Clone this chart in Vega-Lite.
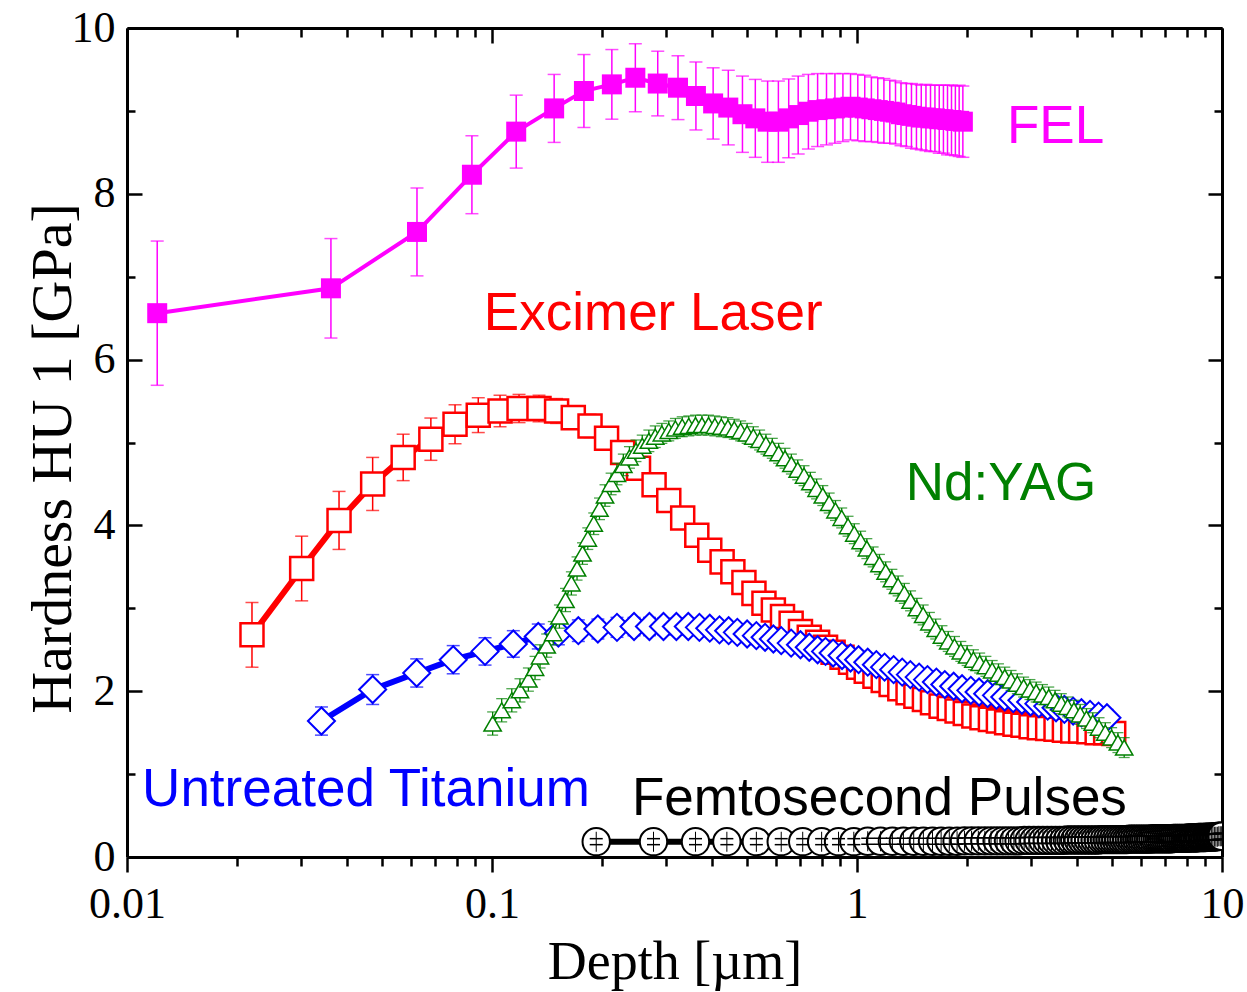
{
"$schema": "https://vega.github.io/schema/vega-lite/v6.json",
"width": 1095, "height": 829,
"autosize": "none",
"padding": {"left": 127, "top": 28, "right": 25, "bottom": 135},
"background": "white",
"config": {"view": {"stroke": null}, "axis": {"grid": false, "zindex": 1, "domainColor": "black", "tickColor": "black", "labelColor": "black", "titleColor": "black"}},
"datasets": {
"fel": [
{"x":0.0121,"y":6.56,"e":0.87},{"x":0.0362,"y":6.86,"e":0.6},{"x":0.0623,"y":7.54,"e":0.53},{"x":0.0881,"y":8.23,"e":0.47},{"x":0.1165,"y":8.75,"e":0.44},{"x":0.148,"y":9.03,"e":0.41},{"x":0.1786,"y":9.24,"e":0.44},{"x":0.213,"y":9.32,"e":0.42},{"x":0.247,"y":9.4,"e":0.41},{"x":0.2845,"y":9.33,"e":0.39},{"x":0.3233,"y":9.28,"e":0.385},{"x":0.362,"y":9.18,"e":0.41},{"x":0.4035,"y":9.09,"e":0.43},{"x":0.444,"y":9.04,"e":0.45},{"x":0.4855,"y":8.96,"e":0.46},{"x":0.5265,"y":8.91,"e":0.47},{"x":0.569,"y":8.87,"e":0.49},{"x":0.609,"y":8.87,"e":0.49},{"x":0.65,"y":8.91,"e":0.475},{"x":0.69,"y":8.95,"e":0.47},{"x":0.736,"y":8.99,"e":0.45},{"x":0.78,"y":9.01,"e":0.44},{"x":0.825,"y":9.02,"e":0.43},{"x":0.87,"y":9.03,"e":0.42},{"x":0.915,"y":9.04,"e":0.41},{"x":0.96,"y":9.05,"e":0.4},{"x":1.005,"y":9.04,"e":0.4},{"x":1.05,"y":9.03,"e":0.4},{"x":1.095,"y":9.02,"e":0.39},{"x":1.14,"y":9.01,"e":0.39},{"x":1.185,"y":9.0,"e":0.39},{"x":1.23,"y":8.99,"e":0.38},{"x":1.275,"y":8.98,"e":0.38},{"x":1.32,"y":8.96,"e":0.38},{"x":1.365,"y":8.95,"e":0.38},{"x":1.41,"y":8.94,"e":0.39},{"x":1.455,"y":8.93,"e":0.39},{"x":1.5,"y":8.92,"e":0.39},{"x":1.545,"y":8.92,"e":0.4},{"x":1.59,"y":8.91,"e":0.4},{"x":1.635,"y":8.91,"e":0.4},{"x":1.68,"y":8.9,"e":0.41},{"x":1.725,"y":8.9,"e":0.41},{"x":1.77,"y":8.89,"e":0.42},{"x":1.815,"y":8.89,"e":0.42},{"x":1.86,"y":8.88,"e":0.42},{"x":1.905,"y":8.88,"e":0.43},{"x":1.95,"y":8.87,"e":0.43}
],
"red": [
{"x":0.022,"y":2.68,"e":0.39},{"x":0.0301,"y":3.48,"e":0.39},{"x":0.0381,"y":4.06,"e":0.35},{"x":0.0471,"y":4.5,"e":0.32},{"x":0.0571,"y":4.82,"e":0.28},{"x":0.068,"y":5.04,"e":0.255},{"x":0.0792,"y":5.22,"e":0.235},{"x":0.0917,"y":5.33,"e":0.21},{"x":0.1052,"y":5.38,"e":0.19},{"x":0.1186,"y":5.41,"e":0.17},{"x":0.1345,"y":5.41,"e":0.16},{"x":0.1503,"y":5.38,"e":0.15},{"x":0.167,"y":5.3,"e":0.14},{"x":0.1856,"y":5.2,"e":0.14},{"x":0.206,"y":5.05,"e":0.13},{"x":0.228,"y":4.88,"e":0.13},{"x":0.252,"y":4.69,"e":0.12},{"x":0.278,"y":4.49,"e":0.12},{"x":0.305,"y":4.3,"e":0.12},{"x":0.333,"y":4.09,"e":0.11},{"x":0.364,"y":3.88,"e":0.11},{"x":0.395,"y":3.7,"e":0.1},{"x":0.427,"y":3.56,"e":0.1},{"x":0.457,"y":3.44,"e":0.1},{"x":0.49,"y":3.31,"e":0.1},{"x":0.522,"y":3.18,"e":0.1},{"x":0.556,"y":3.06,"e":0.1},{"x":0.59,"y":2.98,"e":0.1},{"x":0.625,"y":2.9,"e":0.1},{"x":0.66,"y":2.82,"e":0.1},{"x":0.7,"y":2.72,"e":0.1},{"x":0.74,"y":2.65,"e":0.1},{"x":0.78,"y":2.59,"e":0.1},{"x":0.82,"y":2.53,"e":0.1},{"x":0.86,"y":2.47,"e":0.1},{"x":0.91,"y":2.41,"e":0.1},{"x":0.96,"y":2.35,"e":0.1},{"x":1.01,"y":2.29,"e":0.1},{"x":1.06,"y":2.24,"e":0.1},{"x":1.12,"y":2.18,"e":0.1},{"x":1.18,"y":2.13,"e":0.1},{"x":1.24,"y":2.08,"e":0.1},{"x":1.31,"y":2.03,"e":0.1},{"x":1.38,"y":1.98,"e":0.1},{"x":1.45,"y":1.94,"e":0.1},{"x":1.53,"y":1.9,"e":0.1},{"x":1.61,"y":1.86,"e":0.1},{"x":1.7,"y":1.82,"e":0.1},{"x":1.79,"y":1.79,"e":0.1},{"x":1.88,"y":1.76,"e":0.1},{"x":1.98,"y":1.73,"e":0.1},{"x":2.09,"y":1.7,"e":0.1},{"x":2.2,"y":1.68,"e":0.1},{"x":2.32,"y":1.66,"e":0.1},{"x":2.44,"y":1.64,"e":0.1},{"x":2.57,"y":1.62,"e":0.1},{"x":2.71,"y":1.6,"e":0.1},{"x":2.85,"y":1.59,"e":0.1},{"x":3.0,"y":1.57,"e":0.1},{"x":3.16,"y":1.56,"e":0.1},{"x":3.33,"y":1.55,"e":0.1},{"x":3.51,"y":1.54,"e":0.1},{"x":3.7,"y":1.53,"e":0.1},{"x":3.9,"y":1.52,"e":0.1},{"x":4.1,"y":1.52,"e":0.1},{"x":4.32,"y":1.51,"e":0.1},{"x":4.55,"y":1.5,"e":0.1},{"x":4.8,"y":1.5,"e":0.1},{"x":5.05,"y":1.49,"e":0.1}
],
"blue": [
{"x":0.0341,"y":1.64,"e":0.17},{"x":0.0471,"y":2.02,"e":0.18},{"x":0.0622,"y":2.22,"e":0.17},{"x":0.0783,"y":2.38,"e":0.17},{"x":0.0957,"y":2.48,"e":0.165},{"x":0.1144,"y":2.57,"e":0.16},{"x":0.1339,"y":2.66,"e":0.15},{"x":0.152,"y":2.7,"e":0.14},{"x":0.1724,"y":2.73,"e":0.13},{"x":0.195,"y":2.75,"e":0.12},{"x":0.22,"y":2.77,"e":0.12},{"x":0.245,"y":2.78,"e":0.11},{"x":0.27,"y":2.78,"e":0.11},{"x":0.295,"y":2.78,"e":0.1},{"x":0.32,"y":2.78,"e":0.1},{"x":0.345,"y":2.78,"e":0.1},{"x":0.37,"y":2.77,"e":0.1},{"x":0.395,"y":2.76,"e":0.1},{"x":0.42,"y":2.74,"e":0.1},{"x":0.445,"y":2.73,"e":0.1},{"x":0.47,"y":2.71,"e":0.1},{"x":0.5,"y":2.69,"e":0.1},{"x":0.53,"y":2.67,"e":0.1},{"x":0.56,"y":2.65,"e":0.1},{"x":0.59,"y":2.63,"e":0.1},{"x":0.62,"y":2.61,"e":0.1},{"x":0.66,"y":2.58,"e":0.1},{"x":0.7,"y":2.56,"e":0.1},{"x":0.74,"y":2.53,"e":0.1},{"x":0.78,"y":2.5,"e":0.1},{"x":0.82,"y":2.48,"e":0.1},{"x":0.86,"y":2.46,"e":0.1},{"x":0.91,"y":2.43,"e":0.1},{"x":0.96,"y":2.4,"e":0.1},{"x":1.01,"y":2.38,"e":0.1},{"x":1.07,"y":2.35,"e":0.1},{"x":1.13,"y":2.32,"e":0.1},{"x":1.19,"y":2.29,"e":0.1},{"x":1.26,"y":2.26,"e":0.1},{"x":1.33,"y":2.23,"e":0.1},{"x":1.4,"y":2.2,"e":0.1},{"x":1.48,"y":2.17,"e":0.1},{"x":1.56,"y":2.14,"e":0.1},{"x":1.65,"y":2.11,"e":0.1},{"x":1.74,"y":2.08,"e":0.1},{"x":1.84,"y":2.06,"e":0.1},{"x":1.94,"y":2.03,"e":0.1},{"x":2.05,"y":2.01,"e":0.1},{"x":2.16,"y":1.99,"e":0.1},{"x":2.28,"y":1.97,"e":0.1},{"x":2.41,"y":1.95,"e":0.1},{"x":2.54,"y":1.93,"e":0.1},{"x":2.68,"y":1.91,"e":0.1},{"x":2.83,"y":1.89,"e":0.1},{"x":2.99,"y":1.87,"e":0.1},{"x":3.15,"y":1.85,"e":0.1},{"x":3.33,"y":1.82,"e":0.1},{"x":3.51,"y":1.8,"e":0.1},{"x":3.7,"y":1.78,"e":0.1},{"x":3.91,"y":1.76,"e":0.1},{"x":4.12,"y":1.74,"e":0.1},{"x":4.35,"y":1.72,"e":0.1},{"x":4.59,"y":1.7,"e":0.1},{"x":4.84,"y":1.68,"e":0.1}
],
"green": [
{"x":0.1004,"y":1.61,"e":0.14},{"x":0.1063,"y":1.77,"e":0.14},{"x":0.1133,"y":1.89,"e":0.14},{"x":0.1193,"y":2.01,"e":0.14},{"x":0.1258,"y":2.14,"e":0.14},{"x":0.1312,"y":2.28,"e":0.14},{"x":0.1354,"y":2.42,"e":0.14},{"x":0.1412,"y":2.55,"e":0.14},{"x":0.1472,"y":2.7,"e":0.14},{"x":0.153,"y":2.9,"e":0.14},{"x":0.159,"y":3.1,"e":0.14},{"x":0.165,"y":3.3,"e":0.14},{"x":0.171,"y":3.48,"e":0.14},{"x":0.177,"y":3.66,"e":0.13},{"x":0.183,"y":3.84,"e":0.13},{"x":0.19,"y":4.02,"e":0.13},{"x":0.197,"y":4.2,"e":0.13},{"x":0.204,"y":4.36,"e":0.13},{"x":0.212,"y":4.5,"e":0.13},{"x":0.22,"y":4.62,"e":0.13},{"x":0.229,"y":4.73,"e":0.13},{"x":0.238,"y":4.82,"e":0.13},{"x":0.248,"y":4.9,"e":0.13},{"x":0.258,"y":4.96,"e":0.13},{"x":0.269,"y":5.02,"e":0.13},{"x":0.28,"y":5.07,"e":0.13},{"x":0.292,"y":5.11,"e":0.12},{"x":0.305,"y":5.14,"e":0.12},{"x":0.318,"y":5.17,"e":0.12},{"x":0.332,"y":5.19,"e":0.12},{"x":0.346,"y":5.2,"e":0.12},{"x":0.361,"y":5.21,"e":0.12},{"x":0.376,"y":5.21,"e":0.12},{"x":0.392,"y":5.21,"e":0.12},{"x":0.408,"y":5.2,"e":0.12},{"x":0.425,"y":5.19,"e":0.12},{"x":0.443,"y":5.18,"e":0.12},{"x":0.461,"y":5.16,"e":0.12},{"x":0.48,"y":5.14,"e":0.12},{"x":0.5,"y":5.11,"e":0.12},{"x":0.52,"y":5.07,"e":0.12},{"x":0.541,"y":5.03,"e":0.12},{"x":0.563,"y":4.98,"e":0.12},{"x":0.586,"y":4.93,"e":0.12},{"x":0.61,"y":4.87,"e":0.12},{"x":0.635,"y":4.81,"e":0.12},{"x":0.661,"y":4.74,"e":0.12},{"x":0.688,"y":4.67,"e":0.12},{"x":0.716,"y":4.6,"e":0.12},{"x":0.745,"y":4.52,"e":0.12},{"x":0.775,"y":4.44,"e":0.12},{"x":0.806,"y":4.36,"e":0.12},{"x":0.839,"y":4.27,"e":0.12},{"x":0.873,"y":4.18,"e":0.12},{"x":0.908,"y":4.09,"e":0.12},{"x":0.945,"y":3.99,"e":0.12},{"x":0.983,"y":3.9,"e":0.12},{"x":1.023,"y":3.81,"e":0.12},{"x":1.064,"y":3.72,"e":0.12},{"x":1.107,"y":3.62,"e":0.12},{"x":1.152,"y":3.53,"e":0.12},{"x":1.198,"y":3.44,"e":0.12},{"x":1.246,"y":3.35,"e":0.12},{"x":1.296,"y":3.27,"e":0.12},{"x":1.348,"y":3.18,"e":0.12},{"x":1.402,"y":3.09,"e":0.12},{"x":1.459,"y":3.0,"e":0.12},{"x":1.518,"y":2.92,"e":0.12},{"x":1.579,"y":2.83,"e":0.12},{"x":1.643,"y":2.75,"e":0.12},{"x":1.709,"y":2.67,"e":0.12},{"x":1.778,"y":2.6,"e":0.12},{"x":1.85,"y":2.54,"e":0.12},{"x":1.925,"y":2.48,"e":0.12},{"x":2.003,"y":2.43,"e":0.12},{"x":2.084,"y":2.38,"e":0.12},{"x":2.168,"y":2.34,"e":0.12},{"x":2.255,"y":2.3,"e":0.12},{"x":2.346,"y":2.25,"e":0.12},{"x":2.441,"y":2.21,"e":0.12},{"x":2.54,"y":2.17,"e":0.12},{"x":2.643,"y":2.13,"e":0.12},{"x":2.75,"y":2.09,"e":0.12},{"x":2.861,"y":2.05,"e":0.12},{"x":2.977,"y":2.02,"e":0.12},{"x":3.097,"y":1.99,"e":0.12},{"x":3.222,"y":1.96,"e":0.12},{"x":3.352,"y":1.93,"e":0.12},{"x":3.488,"y":1.89,"e":0.12},{"x":3.629,"y":1.85,"e":0.12},{"x":3.776,"y":1.81,"e":0.12},{"x":3.929,"y":1.77,"e":0.12},{"x":4.088,"y":1.72,"e":0.12},{"x":4.253,"y":1.67,"e":0.12},{"x":4.425,"y":1.62,"e":0.12},{"x":4.604,"y":1.56,"e":0.12},{"x":4.79,"y":1.5,"e":0.12},{"x":4.984,"y":1.44,"e":0.12},{"x":5.186,"y":1.38,"e":0.12},{"x":5.396,"y":1.32,"e":0.12}
],
"black": [
{"x":0.193,"y":0.185},{"x":0.277,"y":0.185},{"x":0.361,"y":0.185},{"x":0.44,"y":0.185},{"x":0.53,"y":0.185},{"x":0.62,"y":0.185},{"x":0.71,"y":0.185},{"x":0.8,"y":0.185},{"x":0.89,"y":0.185},{"x":0.98,"y":0.185},
{"x":1.07,"y":0.19},{"x":1.16,"y":0.19},{"x":1.25,"y":0.19},{"x":1.34,"y":0.19},{"x":1.43,"y":0.19},{"x":1.52,"y":0.19},{"x":1.61,"y":0.19},{"x":1.7,"y":0.19},{"x":1.79,"y":0.19},{"x":1.88,"y":0.19},
{"x":1.97,"y":0.195},{"x":2.06,"y":0.195},{"x":2.15,"y":0.195},{"x":2.24,"y":0.195},{"x":2.33,"y":0.195},{"x":2.42,"y":0.195},{"x":2.51,"y":0.195},{"x":2.6,"y":0.195},{"x":2.69,"y":0.195},{"x":2.78,"y":0.195},
{"x":2.87,"y":0.2},{"x":2.96,"y":0.2},{"x":3.05,"y":0.2},{"x":3.14,"y":0.2},{"x":3.23,"y":0.2},{"x":3.32,"y":0.2},{"x":3.41,"y":0.2},{"x":3.5,"y":0.2},{"x":3.59,"y":0.2},{"x":3.68,"y":0.2},
{"x":3.77,"y":0.205},{"x":3.86,"y":0.205},{"x":3.95,"y":0.205},{"x":4.04,"y":0.205},{"x":4.13,"y":0.205},{"x":4.22,"y":0.205},{"x":4.31,"y":0.205},{"x":4.4,"y":0.205},{"x":4.49,"y":0.205},{"x":4.58,"y":0.205},
{"x":4.67,"y":0.21},{"x":4.76,"y":0.21},{"x":4.85,"y":0.21},{"x":4.94,"y":0.21},{"x":5.03,"y":0.21},{"x":5.12,"y":0.21},{"x":5.21,"y":0.21},{"x":5.3,"y":0.21},{"x":5.39,"y":0.21},{"x":5.48,"y":0.21},
{"x":5.57,"y":0.215},{"x":5.66,"y":0.215},{"x":5.75,"y":0.215},{"x":5.84,"y":0.215},{"x":5.93,"y":0.215},{"x":6.02,"y":0.215},{"x":6.11,"y":0.215},{"x":6.2,"y":0.215},{"x":6.29,"y":0.215},{"x":6.38,"y":0.215},
{"x":6.47,"y":0.22},{"x":6.56,"y":0.22},{"x":6.65,"y":0.22},{"x":6.74,"y":0.22},{"x":6.83,"y":0.22},{"x":6.92,"y":0.22},{"x":7.01,"y":0.22},{"x":7.1,"y":0.22},{"x":7.19,"y":0.22},{"x":7.28,"y":0.22},
{"x":7.37,"y":0.225},{"x":7.46,"y":0.225},{"x":7.55,"y":0.225},{"x":7.64,"y":0.225},{"x":7.73,"y":0.225},{"x":7.82,"y":0.225},{"x":7.91,"y":0.225},{"x":8.0,"y":0.225},{"x":8.09,"y":0.23},{"x":8.18,"y":0.23},
{"x":8.27,"y":0.23},{"x":8.36,"y":0.23},{"x":8.45,"y":0.23},{"x":8.54,"y":0.23},{"x":8.63,"y":0.235},{"x":8.72,"y":0.235},{"x":8.81,"y":0.235},{"x":8.9,"y":0.235},{"x":8.99,"y":0.235},{"x":9.08,"y":0.24},
{"x":9.17,"y":0.24},{"x":9.26,"y":0.24},{"x":9.35,"y":0.24},{"x":9.44,"y":0.24},{"x":9.53,"y":0.245},{"x":9.62,"y":0.245},{"x":9.71,"y":0.245},{"x":9.8,"y":0.25},{"x":9.89,"y":0.25},{"x":9.98,"y":0.25}
],
"labels": [
{"x":2.576,"y":8.61,"label":"FEL"},
{"x":0.095,"y":6.36,"label":"Excimer Laser"},
{"x":1.36,"y":4.31,"label":"Nd:YAG"},
{"x":0.011,"y":0.615,"label":"Untreated Titanium"},
{"x":0.2418,"y":0.507,"label":"Femtosecond Pulses"}
]
},
"encoding": {
"x": {"field": "x", "type": "quantitative", "scale": {"type": "log", "domain": [0.01, 10], "nice": false}, "axis": null},
"y": {"field": "y", "type": "quantitative", "scale": {"domain": [0, 10], "nice": false, "zero": false}, "axis": null}
},
"layer": [
{"data": {"name": "fel"}, "mark": {"type": "errorbar", "color": "#FF00FF", "thickness": 1.5, "ticks": {"size": 13, "thickness": 1.5}}, "encoding": {"yError": {"field": "e"}}},
{"data": {"name": "fel"}, "mark": {"type": "line", "color": "#FF00FF", "strokeWidth": 4}, "encoding": {}},
{"data": {"name": "fel"}, "mark": {"type": "point", "shape": "square", "size": 400, "filled": true, "color": "#FF00FF", "opacity": 1}},
{"data": {"name": "red"}, "mark": {"type": "errorbar", "color": "#FF0000", "thickness": 1.5, "ticks": {"size": 13, "thickness": 1.5}}, "encoding": {"yError": {"field": "e"}}},
{"data": {"name": "red"}, "mark": {"type": "line", "color": "#FF0000", "strokeWidth": 6}, "encoding": {}},
{"data": {"name": "red"}, "mark": {"type": "point", "shape": "square", "size": 530, "filled": true, "fill": "white", "stroke": "#FF0000", "strokeWidth": 2.5, "opacity": 1}},
{"data": {"name": "blue"}, "mark": {"type": "errorbar", "color": "#0000FF", "thickness": 1.5, "ticks": {"size": 13, "thickness": 1.5}}, "encoding": {"yError": {"field": "e"}}},
{"data": {"name": "blue"}, "mark": {"type": "line", "color": "#0000FF", "strokeWidth": 6}, "encoding": {}},
{"data": {"name": "blue"}, "mark": {"type": "point", "shape": "diamond", "size": 730, "filled": true, "fill": "white", "stroke": "#0000FF", "strokeWidth": 2, "opacity": 1}},
{"data": {"name": "green"}, "mark": {"type": "errorbar", "color": "#008000", "thickness": 1.3, "ticks": {"size": 11, "thickness": 1.3}}, "encoding": {"yError": {"field": "e"}}},
{"data": {"name": "green"}, "mark": {"type": "line", "color": "#008000", "strokeWidth": 1.5}, "encoding": {}},
{"data": {"name": "green"}, "mark": {"type": "point", "shape": "triangle-up", "size": 300, "filled": true, "fill": "white", "stroke": "#008000", "strokeWidth": 1.5, "opacity": 1}},
{"data": {"name": "black"}, "mark": {"type": "line", "color": "#000000", "strokeWidth": 6, "clip": true}, "encoding": {}},
{"data": {"name": "black"}, "mark": {"type": "point", "shape": "circle", "size": 750, "filled": true, "fill": "white", "stroke": "#000000", "strokeWidth": 2, "opacity": 1, "clip": true}},
{"data": {"name": "black"}, "mark": {"type": "tick", "orient": "vertical", "size": 20, "thickness": 1, "color": "#000000", "opacity": 1, "clip": true}},
{"data": {"name": "black"}, "mark": {"type": "tick", "orient": "horizontal", "size": 13, "thickness": 1.5, "yOffset": -3, "color": "#000000", "opacity": 1, "clip": true}},
{"data": {"name": "black"}, "mark": {"type": "tick", "orient": "horizontal", "size": 13, "thickness": 1.5, "yOffset": 3, "color": "#000000", "opacity": 1, "clip": true}},
{"data": {"name": "labels"}, "mark": {"type": "text", "align": "left", "baseline": "alphabetic", "font": "Liberation Sans", "fontSize": 53},
 "encoding": {"text": {"field": "label"}, "color": {"field": "label", "type": "nominal", "scale": {"domain": ["FEL", "Excimer Laser", "Nd:YAG", "Untreated Titanium", "Femtosecond Pulses"], "range": ["#FF00FF", "#FF0000", "#008000", "#0000FF", "#000000"]}, "legend": null}}},
{"data": {"name": "fel"}, "mark": {"type": "point", "opacity": 0},
 "encoding": {
  "x": {"field": "x", "type": "quantitative", "scale": {"type": "log", "domain": [0.01, 10], "nice": false},
   "axis": {"orient": "bottom", "values": [0.01, 0.1, 1, 10], "format": "~g", "tickSize": 15, "tickWidth": 2.5, "domainWidth": 3, "labelFont": "Liberation Serif", "labelFontSize": 44, "labelPadding": 10, "labelFlush": false, "labelOverlap": false, "title": "Depth [µm]", "titleFont": "Liberation Serif", "titleFontSize": 54, "titleFontWeight": "normal", "titleY": 121, "titleBaseline": "alphabetic"}},
  "y": {"field": "y", "type": "quantitative", "scale": {"domain": [0, 10], "nice": false, "zero": false},
   "axis": {"orient": "left", "values": [0, 2, 4, 6, 8, 10], "tickSize": -15, "tickWidth": 2.5, "domainWidth": 3, "labelFont": "Liberation Serif", "labelFontSize": 44, "labelPadding": 27, "labelFlush": false, "labelOverlap": false, "title": "Hardness HU 1 [GPa]", "titleFont": "Liberation Serif", "titleFontSize": 58, "titleFontWeight": "normal", "titleX": -57, "titleY": 430, "titleAngle": -90, "titleBaseline": "alphabetic", "titleAlign": "center"}}
 }},
{"data": {"name": "fel"}, "mark": {"type": "point", "opacity": 0},
 "encoding": {
  "x": {"field": "x", "type": "quantitative", "scale": {"type": "log", "domain": [0.01, 10], "nice": false},
   "axis": {"orient": "bottom", "values": [0.02,0.03,0.04,0.05,0.06,0.07,0.08,0.09,0.2,0.3,0.4,0.5,0.6,0.7,0.8,0.9,2,3,4,5,6,7,8,9], "tickSize": 9, "tickWidth": 2.5, "labels": false, "domain": false, "title": null}},
  "y": {"field": "y", "type": "quantitative", "scale": {"domain": [0, 10], "nice": false, "zero": false},
   "axis": {"orient": "left", "values": [1, 3, 5, 7, 9], "tickSize": -8, "tickWidth": 2.5, "labels": false, "domain": false, "title": null}}
 }},
{"data": {"name": "fel"}, "mark": {"type": "point", "opacity": 0},
 "encoding": {
  "x": {"field": "x", "type": "quantitative", "scale": {"type": "log", "domain": [0.01, 10], "nice": false},
   "axis": {"orient": "top", "values": [0.01, 0.1, 1, 10], "tickSize": -15, "tickWidth": 2.5, "domainWidth": 3, "labels": false, "title": null}},
  "y": {"field": "y", "type": "quantitative", "scale": {"domain": [0, 10], "nice": false, "zero": false},
   "axis": {"orient": "right", "values": [0, 2, 4, 6, 8, 10], "tickSize": -14, "tickWidth": 2.5, "domainWidth": 3, "labels": false, "title": null}}
 }},
{"data": {"name": "fel"}, "mark": {"type": "point", "opacity": 0},
 "encoding": {
  "x": {"field": "x", "type": "quantitative", "scale": {"type": "log", "domain": [0.01, 10], "nice": false},
   "axis": {"orient": "top", "values": [0.02,0.03,0.04,0.05,0.06,0.07,0.08,0.09,0.2,0.3,0.4,0.5,0.6,0.7,0.8,0.9,2,3,4,5,6,7,8,9], "tickSize": -9, "tickWidth": 2.5, "labels": false, "domain": false, "title": null}},
  "y": {"field": "y", "type": "quantitative", "scale": {"domain": [0, 10], "nice": false, "zero": false},
   "axis": {"orient": "right", "values": [1, 3, 5, 7, 9], "tickSize": -8, "tickWidth": 2.5, "labels": false, "domain": false, "title": null}}
 }}
],
"resolve": {"axis": {"x": "independent", "y": "independent"}}
}
